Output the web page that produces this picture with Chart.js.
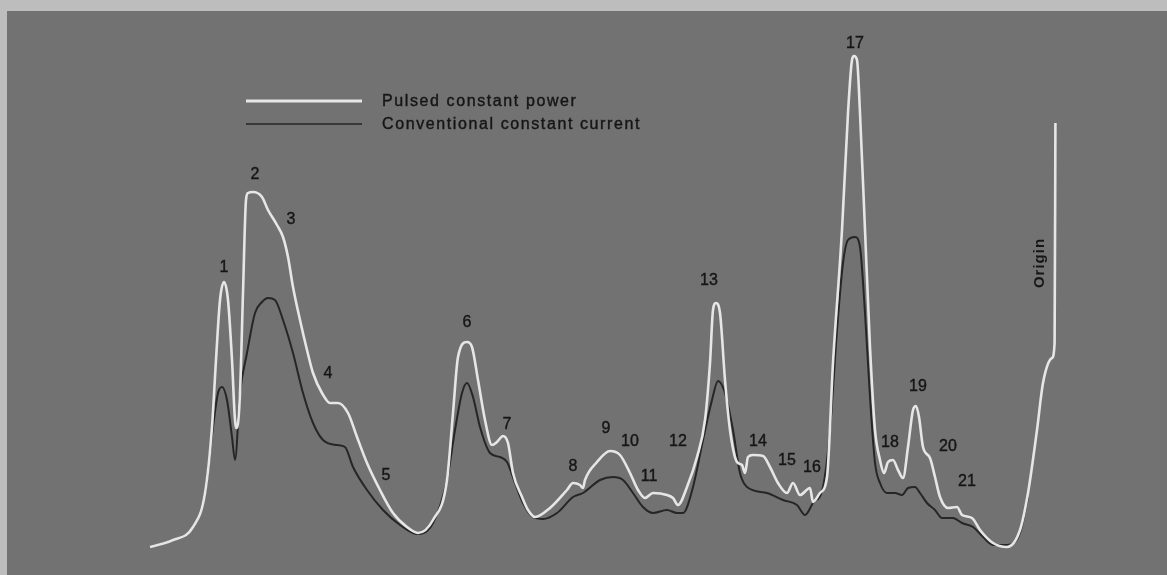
<!DOCTYPE html>
<html>
<head>
<meta charset="utf-8">
<script src="https://cdn.jsdelivr.net/npm/chart.js@4.4.1/dist/chart.umd.min.js"></script>
<style>
  html, body { margin: 0; padding: 0; background: #bdbdbd; }
  #wrap { position: absolute; left: 7px; top: 11px; width: 1160px; height: 564px; background: #727272; }
  #chart { position: absolute; left: 0; top: 0; }
</style>
</head>
<body>
<div id="wrap"></div>
<canvas id="chart" width="1167" height="575"></canvas>
<script>
// migration distance and detector signal
var pulsedX = [150, 173, 193, 205, 212, 216, 220, 224, 228, 232, 235, 237, 240, 243, 246, 248, 253, 262, 268, 277,
  283, 288, 293, 300, 307, 313, 322, 330, 338, 348, 357, 367, 380, 393, 407, 418, 433, 447, 453, 458,
  467, 472, 478, 485, 492, 497, 503, 508, 513, 522, 528, 535, 550, 567, 573, 580, 583, 585, 597, 610,
  620, 630, 638, 645, 653, 667, 673, 678, 687, 697, 705, 710, 713, 716, 720, 725, 730, 737, 742, 745,
  748, 753, 763, 770, 778, 787, 793, 800, 810, 813, 820, 827, 833, 842, 848, 852, 854, 857, 860, 865,
  870, 875, 880, 884, 888, 893, 898, 903, 908, 913, 916, 919, 923, 930, 935, 940, 948, 957, 962, 972,
  980, 993, 1007, 1020, 1028, 1037, 1043, 1052, 1054.6, 1055.4];
var pulsedY = [28, 35, 48, 82, 148, 215, 275, 293, 275, 215, 155, 147, 182, 282, 375, 382, 383, 378, 365, 350,
  338, 318, 288, 255, 225, 202, 182, 172, 172, 162, 138, 112, 85, 62, 48, 42, 55, 95, 162, 218,
  233, 228, 195, 155, 130, 133, 139, 132, 102, 78, 65, 58, 67, 85, 92, 90, 87, 95, 113, 124,
  120, 102, 85, 77, 82, 80, 77, 70, 88, 118, 155, 212, 265, 272, 262, 195, 145, 113, 110, 102,
  118, 120, 119, 108, 92, 82, 92, 80, 87, 73, 82, 98, 212, 345, 462, 515, 519, 515, 462, 345,
  228, 145, 115, 102, 113, 115, 105, 97, 128, 165, 169, 158, 128, 117, 98, 78, 67, 68, 60, 57,
  45, 32, 28, 45, 82, 145, 192, 217, 232, 452];

var currentX = [150, 173, 193, 205, 213, 218, 222, 227, 232, 235, 240, 247, 255, 262, 268, 275, 283, 293, 303, 313,
  323, 337, 345, 353, 367, 383, 400, 417, 433, 447, 455, 462, 467, 473, 480, 490, 500, 507, 515, 523,
  533, 543, 557, 573, 583, 600, 613, 623, 633, 643, 653, 667, 677, 683, 693, 703, 712, 718, 725, 733,
  740, 747, 767, 783, 797, 805, 813, 823, 830, 837, 843, 848, 855, 860, 865, 870, 875, 880, 887, 895,
  902, 908, 915, 920, 927, 935, 942, 953, 962, 973, 983, 993, 1007, 1020, 1028];
var currentY = [28, 35, 48, 82, 148, 182, 188, 175, 138, 115, 182, 222, 262, 273, 277, 275, 255, 222, 182, 152,
  135, 130, 128, 108, 85, 65, 50, 41, 52, 95, 145, 182, 192, 178, 148, 122, 118, 113, 92, 72,
  58, 56, 62, 78, 82, 95, 98, 95, 82, 68, 62, 65, 62, 62, 88, 135, 175, 194, 182, 145,
  102, 88, 82, 75, 70, 60, 72, 88, 145, 245, 312, 335, 338, 328, 262, 178, 112, 92, 82, 82,
  80, 87, 88, 82, 72, 65, 57, 57, 52, 48, 38, 30, 30, 42, 78];

// band numbers and where they are written
var peakNames = ["1", "2", "3", "4", "5", "6", "7", "8", "9", "10", "11", "12", "13", "14", "15", "16", "17", "18", "19", "20", "21"];
var peakLabelX = [224, 255, 291, 328, 386, 467, 507, 573, 606, 630, 649, 678, 709, 758, 787, 812, 855, 890, 918, 948, 967];
var peakLabelY = [307, 400, 355, 201, 99, 252, 150, 108, 146, 133, 98, 133, 294, 133, 114, 107, 531, 132, 188, 128, 93];

var seriesNames = ["Pulsed constant power", "Conventional constant current"];

function toPoints(xs, ys) {
  return xs.map(function (x, i) { return { x: x, y: ys[i] }; });
}

var overlay = {
  id: "overlay",
  afterDatasetsDraw: function (chart) {
    var ctx = chart.ctx;
    var sx = chart.scales.x, sy = chart.scales.y;
    ctx.save();
    ctx.fillStyle = "#161616";
    ctx.strokeStyle = "#161616";
    ctx.lineWidth = 0.4;
    ctx.textAlign = "center";
    ctx.textBaseline = "middle";
    ctx.font = "16px 'Liberation Sans', Arial, sans-serif";
    peakNames.forEach(function (name, i) {
      var px = sx.getPixelForValue(peakLabelX[i]), py = sy.getPixelForValue(peakLabelY[i]);
      ctx.fillText(name, px, py);
      ctx.strokeText(name, px, py);
    });

    // legend
    ctx.textAlign = "left";
    ctx.font = "16px 'Liberation Sans', Arial, sans-serif";
    ctx.letterSpacing = "1.6px";
    var lx = 246, ly = 101;
    var colors = ["#e6e6e6", "#262626"];
    var widths = [3, 1.6];
    seriesNames.forEach(function (name, i) {
      var y = ly + i * 23;
      ctx.strokeStyle = colors[i];
      ctx.lineWidth = widths[i];
      ctx.beginPath();
      ctx.moveTo(lx, y);
      ctx.lineTo(lx + 116, y);
      ctx.stroke();
      ctx.strokeStyle = "#161616";
      ctx.lineWidth = 0.4;
      ctx.fillText(name, 382, y + 1);
      ctx.strokeText(name, 382, y + 1);
    });

    // origin marker label
    ctx.letterSpacing = "1px";
    ctx.translate(1040, 263);
    ctx.rotate(-Math.PI / 2);
    ctx.textAlign = "center";
    ctx.font = "bold 15px 'Liberation Sans', Arial, sans-serif";
    ctx.fillText("Origin", 0, 0);
    ctx.restore();
  }
};

new Chart("chart", {
  type: "scatter",
  data: {
    datasets: [{
      label: seriesNames[0],
      data: toPoints(pulsedX, pulsedY),
      showLine: true,
      borderColor: "#e6e6e6",
      borderWidth: 2.6,
      pointRadius: 0,
      order: 0,
      cubicInterpolationMode: "monotone"
    }, {
      label: seriesNames[1],
      data: toPoints(currentX, currentY),
      showLine: true,
      borderColor: "#262626",
      borderWidth: 2,
      pointRadius: 0,
      order: 1,
      cubicInterpolationMode: "monotone"
    }]
  },
  options: {
    responsive: false,
    animation: false,
    layout: { padding: 0 },
    plugins: {
      legend: { display: false },
      tooltip: { enabled: false }
    },
    scales: {
      x: { type: "linear", min: 0, max: 1167, display: false },
      y: { type: "linear", min: 0, max: 575, display: false }
    }
  },
  plugins: [overlay]
});
</script>
</body>
</html>
